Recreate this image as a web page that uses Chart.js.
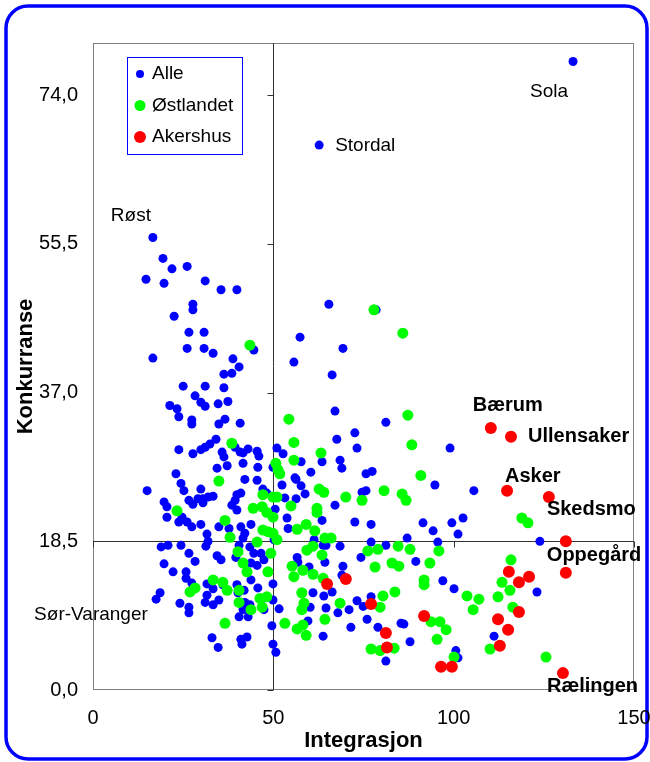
<!DOCTYPE html>
<html><head><meta charset="utf-8">
<script src="https://cdn.jsdelivr.net/npm/chart.js@4/dist/chart.umd.min.js"></script>
<style>html,body{margin:0;padding:0;background:#fff;}#wrap{position:relative;width:650px;height:762px;}</style>
</head><body><div id="wrap"><canvas id="c" width="650" height="762"></canvas></div>
<script>
// ---------- DATA ----------
const seriesNames = ['Alle', 'Østlandet', 'Akershus'];
const xTicks = [0, 50, 100, 150];
const yTicks = [0, 18.5, 37, 55.5, 74];
const xCross = 50, yCross = 18.5;
const xTitle = 'Integrasjon', yTitle = 'Konkurranse';

const alle = [
[133.1,78.2],[62.7,67.8],[16.6,56.3],[17.5,11.3],[18.6,12.1],
[19.4,53.7],[21.9,52.4],[26.1,52.7],[14.7,51.1],[19.7,50.6],[31.1,50.9],[35.5,49.8],[39.9,49.8],[27.7,48.0],[27.7,47.3],[22.5,46.5],[26.6,44.5],[30.8,44.5],[26.1,42.5],[30.8,42.5],[33.3,41.9],[16.6,41.3],[44.6,42.3],[38.8,41.2],[40.5,40.2],[36.3,39.3],[38.5,39.4],
[65.4,48.0],[78.5,47.3],[57.4,43.9],[69.3,42.5],[55.7,40.8],[66.3,39.2],[67.1,34.7],[81.2,33.3],[72.6,32.0],[67.6,31.2],[51.0,30.1],[73.2,30.1],[52.7,29.4],[99.0,30.1],[57.7,28.4],[63.5,28.4],[68.5,28.6],[69.0,27.6],[60.4,27.1],[75.7,26.9],[77.4,27.2],[56.0,26.4],
[25.0,37.8],[31.1,37.8],[36.3,37.6],[28.3,36.6],[29.9,35.8],[31.1,35.3],[21.3,35.4],[23.3,35.0],[34.7,35.6],[37.4,35.9],[23.8,34.0],[27.4,33.6],[27.4,33.1],[36.6,33.7],[34.9,33.1],[40.8,33.2],[34.1,31.2],[32.4,30.6],[31.1,30.2],[29.9,29.9],[27.7,29.4],[23.8,29.9],[35.8,29.6],[36.3,29.0],[39.4,30.2],[40.8,29.6],[43.0,30.0],[41.6,29.5],[45.5,29.7],[46.0,29.1],[37.2,27.9],[34.4,27.6],[41.6,28.2],[45.7,27.7],[23.0,26.9],[24.4,25.7],[25.2,24.8],[42.1,26.2],[45.5,26.1],[15.0,24.8],[29.9,25.0],[19.7,23.4],[20.5,22.8],[26.6,23.6],[27.7,23.1],[29.1,23.8],[30.5,23.8],[30.5,23.3],[31.9,24.0],[33.3,24.1],[39.9,24.3],[41.0,24.5],[39.4,23.6],[38.5,23.0],[39.9,22.4],[47.1,25.0],[48.2,24.5],[20.5,21.5],[23.8,20.9],[24.7,21.5],[26.1,20.9],[27.4,20.3],[29.9,20.6],[34.9,20.3],[37.7,20.1],[41.0,20.3],[42.1,19.5],[43.8,20.6],[31.6,19.4],[31.9,18.5],[31.3,17.9],[18.9,17.8],[20.8,18.0],[24.4,18.0],[26.6,17.0],[28.3,16.0],[19.7,15.7],[22.2,14.7],[25.8,14.7],[34.4,16.7],[35.5,16.2],[39.6,16.5],[40.5,18.0],[41.6,18.9],[43.5,17.8],[44.6,17.0],[46.6,17.0],[47.4,16.2],[43.8,15.8],[45.5,15.5],[43.8,13.7],
[49.9,27.7],[52.4,25.5],[56.3,26.2],[57.7,25.4],[58.8,24.4],[56.3,23.8],[53.2,23.9],[53.8,21.4],[54.1,20.1],[63.5,21.1],[61.3,18.7],[64.6,18.0],
[25.8,13.9],[27.4,13.3],[31.6,13.2],[33.3,12.6],[36.0,13.1],[39.9,13.1],[41.9,12.4],[40.2,12.1],[45.7,12.7],[31.6,11.8],[31.1,10.9],[33.3,10.6],[34.9,11.2],[24.1,10.8],[26.6,10.3],[26.6,9.6],[42.1,10.9],[43.5,10.6],[41.6,10.0],[43.0,9.1],[47.4,10.0],[47.1,11.4],[49.9,11.2],[51.6,10.1],[40.5,9.1],[49.6,8.0],[33.0,6.5],[34.7,5.3],[41.0,6.3],[42.7,6.6],[41.3,5.7],[49.9,5.7],[50.7,4.7],[64.0,11.7],
[111.2,6.7],[123.1,12.2],
[74.6,24.6],[75.7,24.8],[94.8,25.5],[50.5,22.5],[50.2,18.7],[56.6,16.5],[56.8,15.9],[59.9,15.3],[49.9,13.2],[61.0,12.1],[60.2,10.3],[59.6,8.6],[63.8,6.7],
[67.1,23.0],[72.6,20.9],[77.1,20.6],[91.5,20.8],[94.3,19.8],[99.5,20.8],[102.6,21.4],[101.2,19.4],[87.1,18.9],[95.6,18.4],[77.1,18.4],[81.2,18.0],[68.5,17.9],[63.8,18.0],[74.3,16.5],[64.3,15.9],[89.5,16.0],[69.3,15.4],[69.0,14.3],[66.3,12.2],[97.0,13.6],[100.1,12.6],[64.6,10.2],[67.9,9.6],[71.0,10.0],[73.2,11.1],[74.9,10.4],[77.1,11.6],[76.0,8.8],[71.5,7.8],[79.0,7.8],[85.4,8.3],[86.2,8.2],[87.9,6.0],[81.2,3.6],[100.6,4.9],[101.2,4.0],
[105.6,24.8],[123.9,18.5]
];

const ostlandet = [
[77.9,47.3],[85.9,44.4],[54.3,33.7],[87.3,34.2],[55.7,30.8],[88.4,30.5],[63.2,29.5],[50.7,28.2],[55.7,28.6],[51.8,26.9],[90.9,26.7],[43.5,42.9],[38.5,30.7],[34.9,26.0],[51.3,27.4],[47.1,24.3],[49.9,24.0],[51.0,24.0],[44.4,22.6],[46.9,22.8],[48.2,22.1],[49.9,21.5],[23.3,22.3],[36.6,21.1],[38.0,19.0],[47.1,19.9],[48.5,19.7],[49.9,19.5],[51.0,18.7],[45.5,18.4],[40.2,17.2],[41.6,15.8],[42.7,14.7],[49.3,17.0],[48.5,14.7],[33.3,13.7],[36.0,13.4],
[62.7,25.0],[64.0,24.6],[54.9,22.9],[62.1,22.6],[62.1,22.1],[59.1,20.6],[56.6,20.0],[61.5,19.8],[64.3,18.9],
[37.2,12.4],[26.9,12.2],[28.3,12.7],[40.5,12.4],[40.5,10.9],[46.3,11.4],[48.2,11.6],[46.9,10.3],[43.8,10.0],[36.6,8.3],
[55.2,15.4],[55.7,14.1],[58.2,14.9],[61.0,14.4],[63.8,13.9],[59.3,17.4],[61.0,17.9],[63.5,16.8],[57.9,12.1],[58.5,10.8],[57.9,10.0],[53.2,8.3],[56.6,7.6],[58.2,8.1],[59.1,6.8],[64.3,8.8],[68.5,10.8],
[77.1,5.1],[79.6,4.9],[83.5,5.2],[80.4,11.7],[83.7,12.2],[91.8,13.1],[93.7,8.5],[96.2,8.5],[97.9,7.5],[95.4,6.3],[100.1,4.1],[103.7,11.7],[107.0,11.3],[105.4,10.0],[112.3,11.6],[116.4,10.3],[110.1,5.1],[125.6,4.1],
[66.0,18.9],[76.2,17.3],[79.0,17.5],[84.6,17.9],[87.9,17.5],[95.9,17.3],[78.2,15.3],[82.9,15.8],[84.8,15.4],[93.4,15.8],[91.8,13.7],[79.6,10.3],
[70.1,24.0],[74.6,23.6],[80.7,24.8],[85.7,24.4],[86.8,23.6],[118.9,21.4],[120.6,20.8],[115.9,16.2],[113.4,13.4],[115.6,12.4]
];

const akershus = [
[110.3,32.6],[115.9,31.5],[114.8,24.8],[126.4,24.0],[131.1,18.5],[131.1,14.6],[115.3,14.7],[120.9,14.1],[118.1,13.4],[118.1,9.7],[112.3,8.8],[115.1,7.5],[112.8,5.5],[130.3,2.1],[64.9,13.2],[70.1,13.8],[77.1,10.7],[91.8,9.2],[81.2,7.1],[81.5,5.3],[96.5,2.9],[99.5,2.9]
];

// names of labelled points: [series index, point index, text]
const pointNames = [
  [0, 0, 'Sola'], [0, 1, 'Stordal'], [0, 2, 'Røst'], [0, 3, 'Sør-Varanger'],
  [2, 0, 'Bærum'], [2, 1, 'Ullensaker'], [2, 2, 'Asker'], [2, 3, 'Skedsmo'],
  [2, 4, 'Oppegård'], [2, 13, 'Rælingen']
];

// ---------- STYLE / LAYOUT ----------
const FONT = "'Liberation Sans', Arial, Helvetica, sans-serif";
const colors = ['#0000ff', '#00ff00', '#ff0000'];
const radii = [4.5, 5.5, 6];
// text offsets from the labelled point (px) and weight
const labelStyle = [
  {dx:-43, dy:30, bold:false}, {dx:16, dy:1, bold:false}, {dx:-42, dy:-22, bold:false}, {dx:-122, dy:16, bold:false},
  {dx:-18, dy:-23, bold:true}, {dx:17, dy:0, bold:true}, {dx:-2, dy:-14, bold:true}, {dx:-2, dy:12, bold:true},
  {dx:-19, dy:14, bold:true}, {dx:-16, dy:13, bold:true}
];

const toXY = arr => arr.map(p => ({x: p[0], y: p[1]}));

const decor = {
  id: 'decor',
  beforeDraw(chart) {
    const ctx = chart.ctx;
    ctx.save();
    ctx.strokeStyle = '#0000ff';
    ctx.lineWidth = 3.5;
    ctx.beginPath();
    ctx.roundRect(6, 6, 641, 753, 22);
    ctx.stroke();
    ctx.restore();
  },
  beforeDatasetsDraw(chart) {
    const {ctx, chartArea: ca, scales: {x, y}} = chart;
    ctx.save();
    ctx.strokeStyle = '#808080';
    ctx.lineWidth = 1;
    ctx.strokeRect(Math.round(ca.left) + 0.5, Math.round(ca.top) + 0.5, Math.round(ca.right - ca.left) - 1, Math.round(ca.bottom - ca.top) - 1);
    const cx = Math.round(x.getPixelForValue(xCross)) + 0.5;
    const cy = Math.round(y.getPixelForValue(yCross)) + 0.5;
    ctx.strokeStyle = '#333333';
    ctx.beginPath();
    ctx.moveTo(cx, ca.top); ctx.lineTo(cx, ca.bottom);
    ctx.moveTo(ca.left, cy); ctx.lineTo(ca.right, cy);
    yTicks.forEach(v => {
      const py = Math.round(y.getPixelForValue(v)) + 0.5;
      ctx.moveTo(cx - 6, py); ctx.lineTo(cx, py);
    });
    xTicks.forEach(v => {
      const px = Math.round(x.getPixelForValue(v)) + 0.5;
      ctx.moveTo(px, cy); ctx.lineTo(px, cy + 6);
    });
    ctx.stroke();
    ctx.restore();
  },
  afterDatasetsDraw(chart) {
    const {ctx, chartArea: ca} = chart;
    ctx.save();
    ctx.fillStyle = '#000';
    ctx.textBaseline = 'middle';
    ctx.textAlign = 'left';
    pointNames.forEach((n, i) => {
      const st = labelStyle[i];
      const el = chart.getDatasetMeta(n[0]).data[n[1]];
      ctx.font = (st.bold ? 'bold 20px ' : '19px ') + FONT;
      ctx.fillText(n[2], el.x + st.dx, el.y + st.dy);
    });
    const lx = ca.left + 34, ly = ca.top + 14, lw = 115, lh = 97;
    ctx.fillStyle = '#fff';
    ctx.fillRect(lx, ly, lw, lh);
    ctx.strokeStyle = '#0000ff';
    ctx.lineWidth = 1;
    ctx.strokeRect(Math.round(lx) + 0.5, Math.round(ly) + 0.5, lw, lh);
    const legR = [4, 5.5, 6];
    seriesNames.forEach((s, i) => {
      const yy = ly + 17 + i * 31.5;
      ctx.fillStyle = colors[i];
      ctx.beginPath();
      ctx.arc(lx + 13, yy, legR[i], 0, Math.PI * 2);
      ctx.fill();
      ctx.fillStyle = '#000';
      ctx.font = '19px ' + FONT;
      ctx.fillText(s, lx + 25, yy);
    });
    ctx.restore();
  }
};

const datasets = [alle, ostlandet, akershus].map((d, i) => ({
  label: seriesNames[i],
  data: toXY(d),
  backgroundColor: colors[i],
  borderWidth: 0,
  pointRadius: radii[i],
  pointHoverRadius: radii[i],
  order: 3 - i
}));

new Chart(document.getElementById('c'), {
  type: 'scatter',
  data: {datasets},
  options: {
    responsive: false,
    animation: false,
    devicePixelRatio: 1,
    layout: {padding: {top: 43, right: 16, bottom: 0, left: 0}},
    plugins: {legend: {display: false}, tooltip: {enabled: false}},
    scales: {
      x: {
        type: 'linear', min: 0, max: 150,
        afterBuildTicks: s => { s.ticks = xTicks.map(v => ({value: v})); },
        afterFit: s => { s.height = 72; s.paddingLeft = 0; s.paddingRight = 0; },
        grid: {display: false, drawTicks: false},
        border: {display: false},
        ticks: {color: '#000', font: {family: FONT, size: 20}, padding: 16, maxRotation: 0, autoSkip: false,
                callback: v => String(v)},
        title: {display: true, text: xTitle, color: '#000', font: {family: FONT, size: 22, weight: 'bold'}, padding: {top: 0, bottom: 8}}
      },
      y: {
        type: 'linear', min: 0, max: 80.5,
        afterBuildTicks: s => { s.ticks = yTicks.map(v => ({value: v})); },
        afterFit: s => { s.width = 93; s.paddingTop = 0; s.paddingBottom = 0; },
        grid: {display: false, drawTicks: false},
        border: {display: false},
        ticks: {color: '#000', font: {family: FONT, size: 20}, padding: 15, autoSkip: false,
                callback: v => Number(v).toFixed(1).replace('.', ',')},
        title: {display: true, text: yTitle, color: '#000', font: {family: FONT, size: 22, weight: 'bold'}, padding: {top: 13, bottom: 0}}
      }
    }
  },
  plugins: [decor]
});
</script></body></html>
